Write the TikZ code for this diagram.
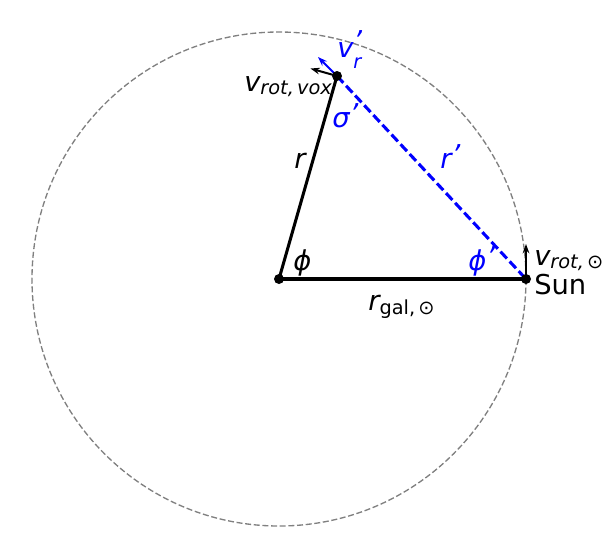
\documentclass[tikz,border=0pt]{standalone}
\usepackage{fontspec}
\setmainfont{DejaVu Sans}
\usetikzlibrary{arrows.meta}
\newcommand{\lowtxt}[2][0.12em]{\raisebox{-#1}{\fontsize{14.5}{14.5}\selectfont #2}}
\newcommand{\pr}{\raisebox{0.12em}{\char"0027}}
\begin{document}
\begin{tikzpicture}[x=0.75pt,y=-0.75pt,
  lbl/.style={anchor=base west,inner sep=0pt,font=\fontsize{20.5}{20.5}\selectfont},
  dotn/.style={circle,fill=black,inner sep=0pt,minimum size=7.5pt},
  arr/.style={-{Stealth[length=7pt,width=5pt]},line width=1.5pt}]
\useasboundingbox (0,0) rectangle (615,558);
\coordinate (C) at (279,279);
\draw[gray,line width=1pt,dash pattern=on 4.5pt off 2pt] (C) circle[radius=247];
\coordinate (S) at (526,279);
\coordinate (V) at (337,76);
\coordinate (Vr) at (318,57);
\coordinate (Vrot) at (310.5,68.5);
\coordinate (Srot) at (526,244);
\draw[blue,line width=2.3pt,dash pattern=on 7pt off 3pt] (V) -- (S);
\draw[line width=2.3pt] (C) -- (V);
\draw[line width=2.3pt] (C) -- (S);
\draw[arr,blue] (V) -- (Vr);
\draw[arr] (V) -- (Vrot);
\draw[arr] (S) -- (Srot);
\node[dotn] (c) at (C) {};
\node[dotn] (s) at (S) {};
\node[dotn] (v) at (V) {};
\node[lbl,blue] (lvr) at (337,57) {\itshape v\rlap{\raisebox{0.22em}{\char"0027}}\lowtxt[0.42em]{r}};
\node[lbl] (lvrot) at (244,91) {\itshape v\lowtxt{rot,\,vox}};
\node[lbl,blue] (lsig) at (332,127) {\itshape σ\pr};
\node[lbl] (lr) at (294,168) {\itshape r};
\node[lbl,blue] (lrp) at (440,168) {\itshape r\pr};
\node[lbl] (lphi) at (293,270) {\itshape ϕ};
\node[lbl,blue] (lphip) at (468,270) {\itshape ϕ\pr};
\node[lbl] (lvs) at (534,265) {\itshape v\lowtxt{rot,\,\upshape ⊙}};
\node[lbl] (lsun) at (534,294) {Sun};
\node[lbl] (lrg) at (368,310) {\itshape r\lowtxt[0.15em]{\upshape gal,\,⊙}};
\end{tikzpicture}
\end{document}
